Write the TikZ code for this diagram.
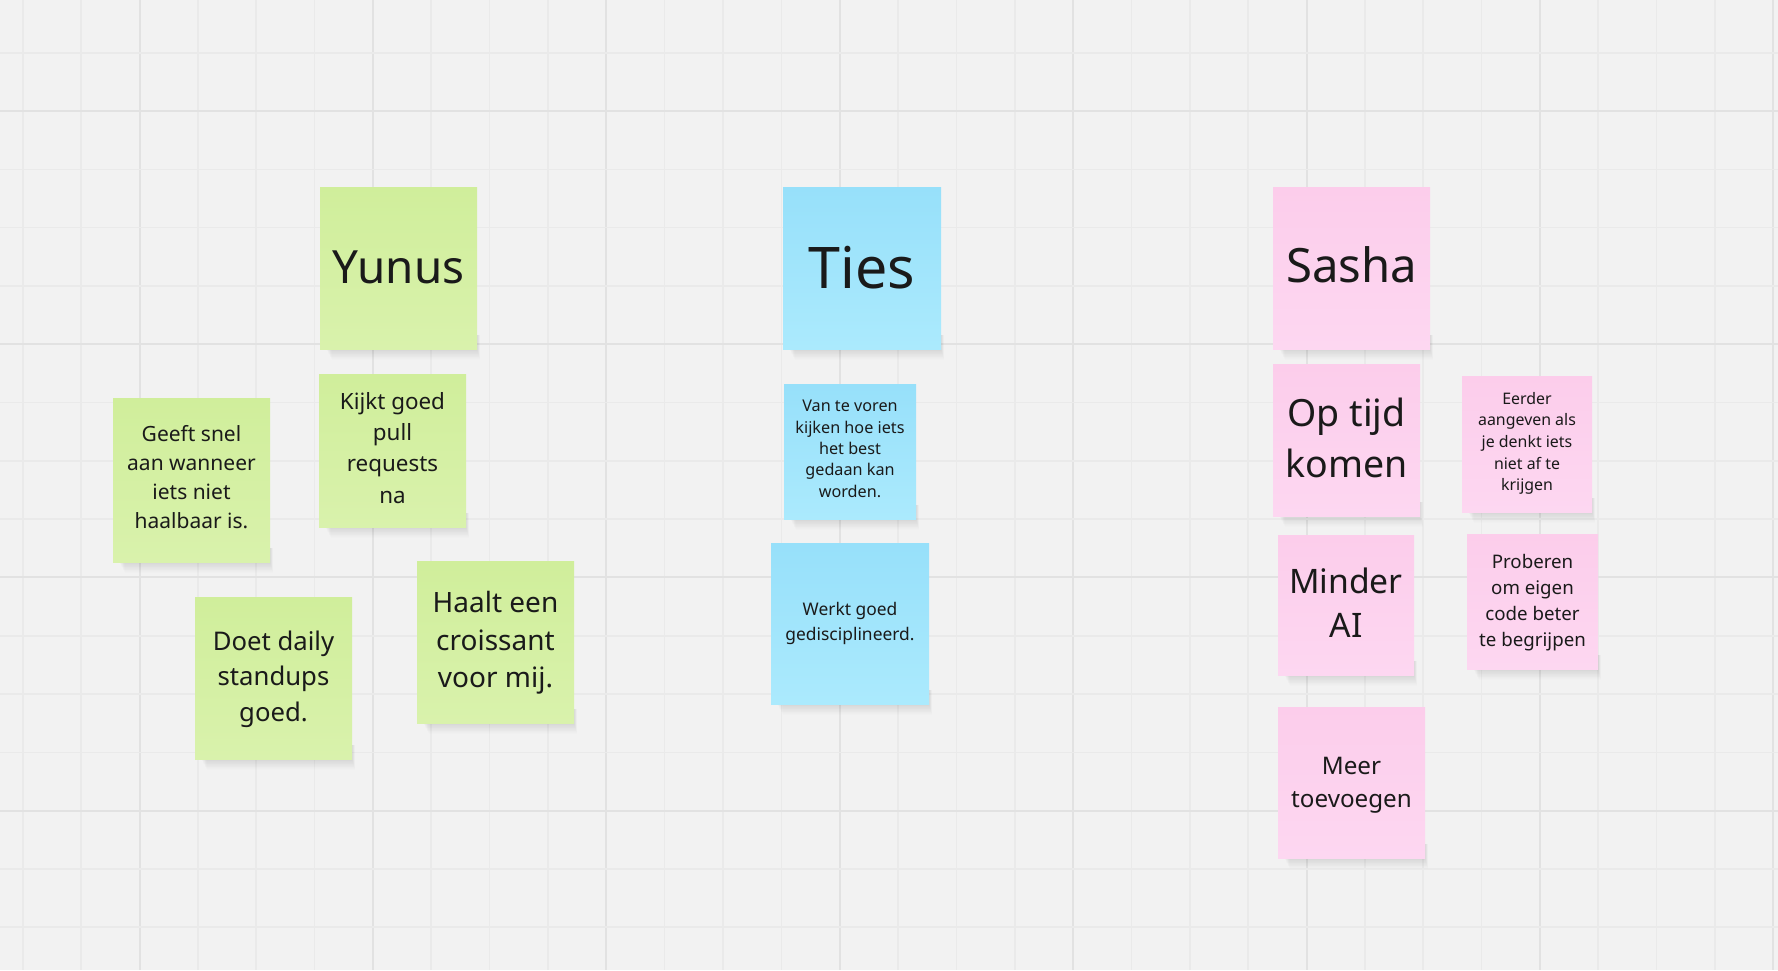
\documentclass[tikz,border=0pt]{standalone}
\usepackage{fontspec}
\setmainfont{Noto Sans}
\definecolor{bg}{HTML}{F2F2F2}
\definecolor{gridminor}{HTML}{EAEAEA}
\definecolor{gridmajor}{HTML}{E2E2E2}
\definecolor{ink}{HTML}{1A1A1A}
\definecolor{grnT}{HTML}{D0EE9B}
\definecolor{grnB}{HTML}{D9F2AC}
\definecolor{bluT}{HTML}{97E0FA}
\definecolor{bluB}{HTML}{ABEAFD}
\definecolor{pnkT}{HTML}{FCCDEB}
\definecolor{pnkB}{HTML}{FDD7F1}
\newcommand\stlines[2]{\vtop{\baselineskip=#1pt\lineskiplimit=-1000pt\lineskip=0pt\halign{\hfil##\hfil\cr#2\crcr}}}
\newcommand\sticky[7]{%
  \foreach \i in {1,...,14}{\fill[black,opacity=0.008] ({#2+6+\i*0.4},{#5-14}) rectangle ({#4+\i*0.22},{#5+\i*0.75});}
  \node[stk, minimum width={#4-#2}, minimum height={#5-#3}, top color=#6, bottom color=#7] (#1) at (#2,#3) {};
}
\newcommand\fs[2]{\fontsize{#1pt}{#2pt}\selectfont}
\begin{document}
\begin{tikzpicture}[x=1pt,y=-1pt,
  stk/.style={draw=none, inner sep=0pt, outer sep=0pt, anchor=north west},
  txt/.style={inner sep=0pt, outer sep=0pt, anchor=base, text=ink},
  minorline/.style={draw=gridminor, line width=1.6pt},
  majorline/.style={draw=gridmajor, line width=2pt}]
\useasboundingbox (0,0) rectangle (1778,970);
\fill[bg] (0,0) rectangle (1778,970);
% grid
\foreach \k in {0,...,30}{
  \pgfmathsetmacro\xx{22.8+58.35*\k}
  \pgfmathtruncatemacro\m{mod(\k+2,4)}
  \ifnum\m=0 \path[majorline] (\xx,0) -- (\xx,970);
  \else \path[minorline] (\xx,0) -- (\xx,970); \fi
}
\foreach \k in {0,...,16}{
  \pgfmathsetmacro\yy{52.7+58.3*\k}
  \pgfmathtruncatemacro\m{mod(\k+3,4)}
  \ifnum\m=0 \path[majorline] (0,\yy) -- (1778,\yy);
  \else \path[minorline] (0,\yy) -- (1778,\yy); \fi
}
% Yunus column
\sticky{yunus}{320}{187}{477}{349}{grnT}{grnB}
\node[txt, font=\fs{45.8}{55}] (yunus-t) at (398.5,283.3) {Yunus};
\sticky{geeft}{113}{398}{270}{562}{grnT}{grnB}
\node[txt, font=\fs{21}{29}] (geeft-t) at (191.5,441.7) {\stlines{28.9}{Geeft snel\cr aan wanneer\cr iets niet\cr haalbaar is.}};
\sticky{kijkt}{319}{374}{466}{527}{grnT}{grnB}
\node[txt, font=\fs{22.4}{31}] (kijkt-t) at (392.5,409.3) {\stlines{31.3}{Kijkt goed\cr pull\cr requests\cr na}};
\sticky{doet}{195}{597}{352}{759}{grnT}{grnB}
\node[txt, font=\fs{25.7}{35}] (doet-t) at (273.5,650) {\stlines{35.5}{Doet daily\cr standups\cr goed.}};
\sticky{haalt}{417}{561}{574}{723}{grnT}{grnB}
\node[txt, font=\fs{28}{38}] (haalt-t) at (495.5,612.3) {\stlines{37.7}{Haalt een\cr croissant\cr voor mij.}};
% Ties column
\sticky{ties}{783}{187}{941}{349}{bluT}{bluB}
\node[txt, font=\fs{57.4}{70}] (ties-t) at (862,288.5) {Ties};
\sticky{voren}{784}{384}{916}{519}{bluT}{bluB}
\node[txt, font=\fs{16.2}{21}] (voren-t) at (850,411.7) {\stlines{21.4}{Van te voren\cr kijken hoe iets\cr het best\cr gedaan kan\cr worden.}};
\sticky{werkt}{771}{543}{929}{704}{bluT}{bluB}
\node[txt, font=\fs{17.4}{25}] (werkt-t) at (850,615.6) {\stlines{24.8}{Werkt goed\cr gedisciplineerd.}};
% Sasha column
\sticky{sasha}{1273}{187}{1430}{349}{pnkT}{pnkB}
\node[txt, font=\fs{47.3}{58}] (sasha-t) at (1351.5,282.5) {Sasha};
\sticky{optijd}{1273}{364}{1420}{516}{pnkT}{pnkB}
\node[txt, font=\fs{37.5}{50}] (optijd-t) at (1346.5,426.7) {\stlines{50.4}{Op tijd\cr komen}};
\sticky{eerder}{1462}{376}{1592}{512}{pnkT}{pnkB}
\node[txt, font=\fs{15.9}{22}] (eerder-t) at (1527,404.3) {\stlines{21.6}{Eerder\cr aangeven als\cr je denkt iets\cr niet af te\cr krijgen}};
\sticky{minder}{1278}{535}{1414}{675}{pnkT}{pnkB}
\node[txt, font=\fs{33.7}{45}] (minder-t) at (1346,593.2) {\stlines{44.6}{Minder\cr AI}};
\sticky{proberen}{1467}{534}{1598}{669}{pnkT}{pnkB}
\node[txt, font=\fs{18.7}{26}] (proberen-t) at (1532.5,568.3) {\stlines{25.9}{Proberen\cr om eigen\cr code beter\cr te begrijpen}};
\sticky{meer}{1278}{707}{1425}{858}{pnkT}{pnkB}
\node[txt, font=\fs{24.2}{34}] (meer-t) at (1351.5,774) {\stlines{33.5}{Meer\cr toevoegen}};
\end{tikzpicture}
\end{document}
